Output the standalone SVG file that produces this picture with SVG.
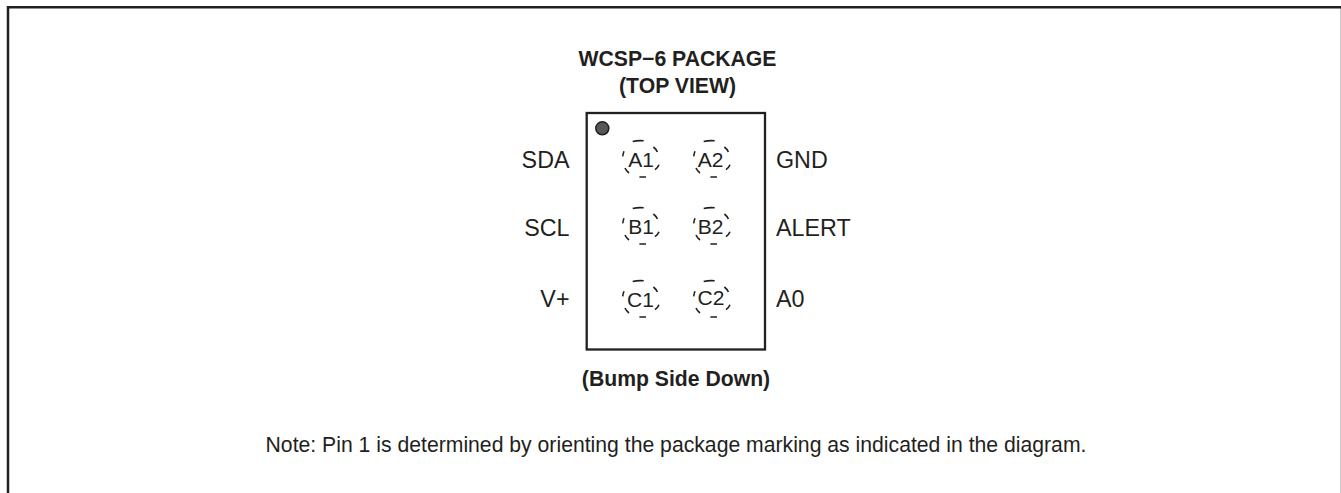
<svg xmlns="http://www.w3.org/2000/svg" width="1341" height="493" viewBox="0 0 1341 493">
<style>
text{font-family:"Liberation Sans",Arial,sans-serif;fill:#231f20}
.l{font-size:23.3px}
.b{font-size:21.2px;font-weight:bold;text-anchor:middle}
.n{font-size:21.2px;text-anchor:middle}
.p{font-size:21px;text-anchor:middle}
.r{text-anchor:end}
.bump{fill:none;stroke:#231f20;stroke-width:1.6}
</style>
<defs>
<path id="bump" class="bump" d="M-8-17.4Q-3-18.8 3-18.2M12.7-12Q15.3-10 16.7-7M18.3 5.7Q17.2 8.5 14.3 10.7M-1.3 18H5.3M-11.7 14Q-14.4 12-15.7 9M-18-2.7Q-17.6-5.5-16.7-7.7"/>
</defs>
<rect width="1341" height="493" fill="#fff"/>
<path d="M1340.5 8V493" stroke="#c8c8c8" stroke-width="1"/>
<path d="M8 493V7.3H1341" fill="none" stroke="#231f20" stroke-width="2.5"/>
<g id="title"><text class="b" x="677.5" y="66">WCSP−6 PACKAGE</text><text class="b" x="677.5" y="92.5">(TOP VIEW)</text></g>
<g id="package"><rect x="586.7" y="113" width="178.3" height="236.5" fill="#fff" stroke="#231f20" stroke-width="2.3"/><circle cx="602.3" cy="128.3" r="6.5" fill="#58585a" stroke="#231f20" stroke-width="1.5"/></g>
<g id="A1"><use href="#bump" x="640.7" y="159"/><text class="p" x="641" y="167">A1</text></g>
<g id="A2"><use href="#bump" x="711.7" y="159"/><text class="p" x="710.5" y="167">A2</text></g>
<g id="B1"><use href="#bump" x="640.7" y="226"/><text class="p" x="641" y="233.5">B1</text></g>
<g id="B2"><use href="#bump" x="711.7" y="226"/><text class="p" x="710.5" y="233.5">B2</text></g>
<g id="C1"><use href="#bump" x="640.7" y="299"/><text class="p" x="640.5" y="307">C1</text></g>
<g id="C2"><use href="#bump" x="711.7" y="299"/><text class="p" x="711" y="305">C2</text></g>
<g id="pins">
<text class="l r" x="569.5" y="168">SDA</text><text class="l r" x="569.5" y="236">SCL</text><text class="l r" x="569.5" y="306.5">V+</text>
<text class="l" x="776" y="168">GND</text><text class="l" x="776" y="236">ALERT</text><text class="l" x="776" y="306.5">A0</text>
</g>
<g id="connectors"/>
<text class="b" x="676" y="386">(Bump Side Down)</text>
<text class="n" x="676" y="452">Note: Pin 1 is determined by orienting the package marking as indicated in the diagram.</text>
</svg>
